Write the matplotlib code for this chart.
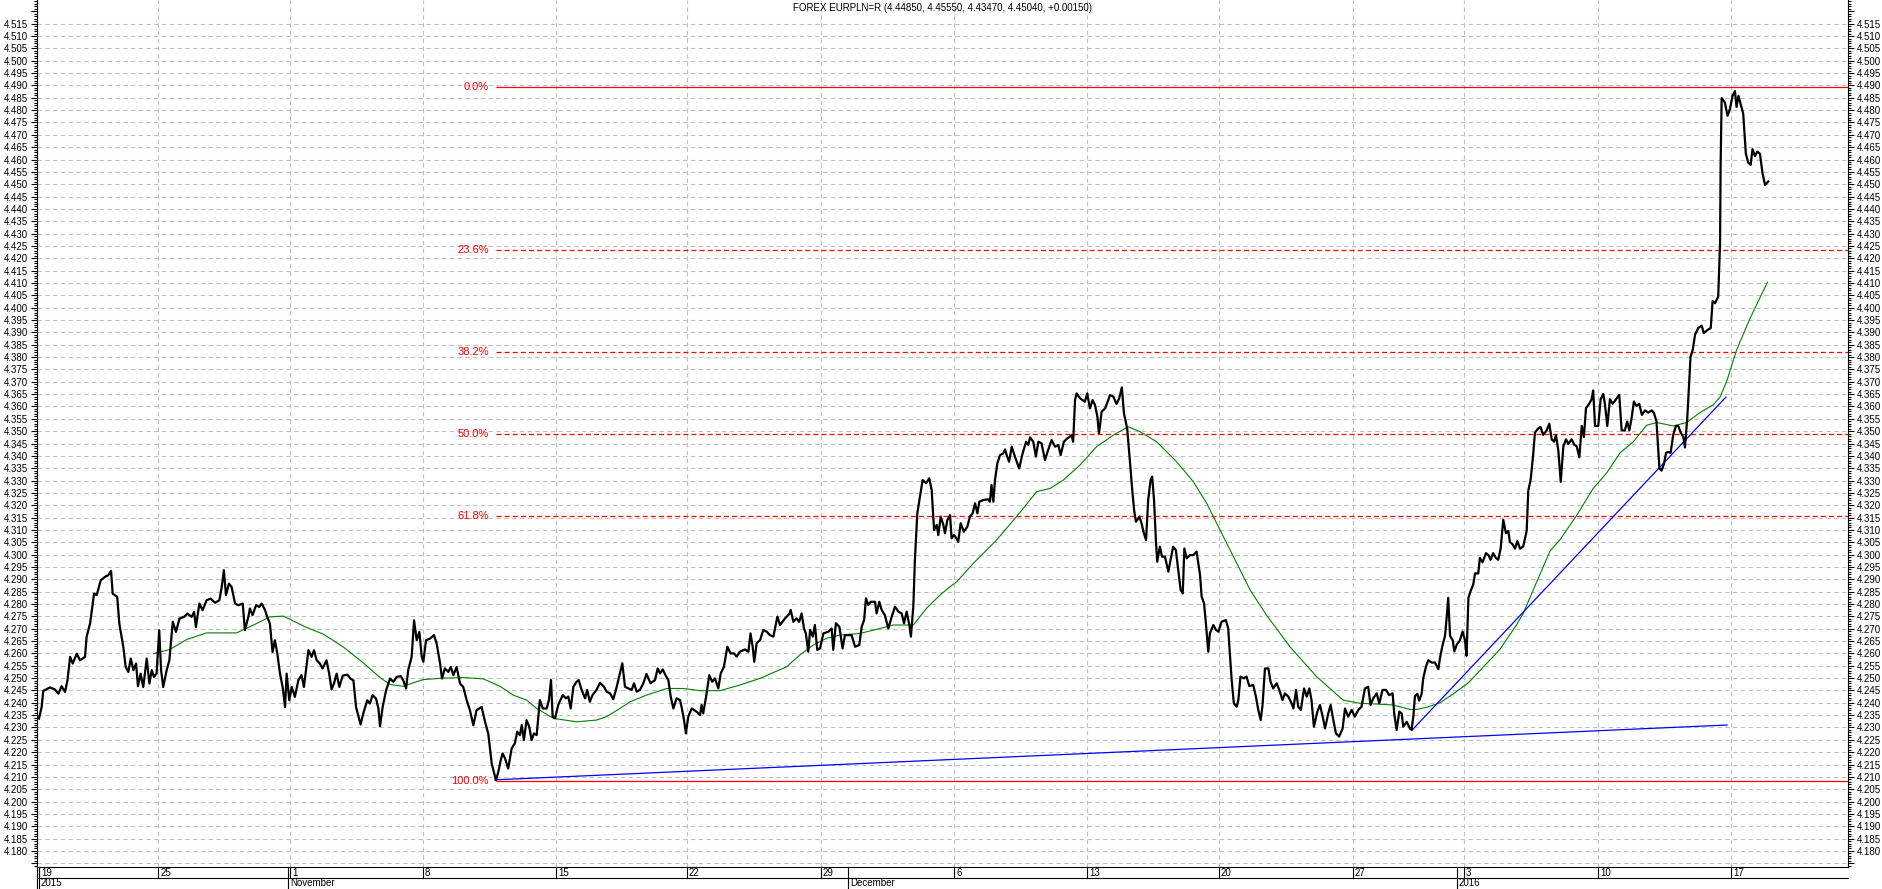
import matplotlib
matplotlib.use('Agg')
import matplotlib.pyplot as plt
from matplotlib.ticker import FixedLocator, FuncFormatter, MultipleLocator
import numpy as np

plt.rcParams['font.family'] = ['Liberation Sans', 'DejaVu Sans']

title = 'FOREX EURPLN=R (4.44850, 4.45550, 4.43470, 4.45040, +0.00150)'

# x axis is in trading days counted from Mon 19 Oct 2015
week_days = [0.0, 4.49, 9.44, 14.44, 19.44, 24.36, 29.40, 34.40, 39.40, 44.36, 49.40, 53.57, 58.61, 63.61]
week_labels = ['19', '25', '1', '8', '15', '22', '29', '6', '13', '20', '27', '3', '10', '17']
month_days = [0.0, 9.36, 30.41, 53.31]
month_labels = ['2015', 'November', 'December', '2016']

# fibonacci retracement
fib_ratios = [0.0, 0.236, 0.382, 0.5, 0.618, 1.0]
fib_high = 4.4895
fib_low = 4.2085
fib_start = 17.18

# trend lines
support_days = [17.14, 63.46]
support_vals = [4.2088, 4.2310]
rally_days = [51.61, 63.42]
rally_vals = [4.2288, 4.3638]

# closing price (day, price)
close_pts = [
    (0.00, 4.2336), (0.10, 4.2383), (0.16, 4.2448), (0.41, 4.2462), (0.60, 4.2454), (0.73, 4.2437),
    (0.85, 4.2467), (0.98, 4.2444), (1.07, 4.2491), (1.17, 4.2586), (1.27, 4.2559), (1.42, 4.2599),
    (1.54, 4.2572), (1.73, 4.2586), (1.79, 4.2667), (1.92, 4.2721), (2.07, 4.2842), (2.17, 4.2836),
    (2.32, 4.2896), (2.48, 4.2910), (2.61, 4.2917), (2.71, 4.2934), (2.77, 4.2842), (2.94, 4.2829),
    (3.02, 4.2721), (3.17, 4.2626), (3.26, 4.2545), (3.36, 4.2525), (3.45, 4.2579), (3.55, 4.2532),
    (3.65, 4.2559), (3.72, 4.2467), (3.82, 4.2518), (3.92, 4.2464), (4.05, 4.2579), (4.15, 4.2478),
    (4.24, 4.2532), (4.32, 4.2505), (4.42, 4.2518), (4.52, 4.2694), (4.59, 4.2532), (4.67, 4.2464),
    (4.80, 4.2532), (4.90, 4.2572), (5.03, 4.2728), (5.15, 4.2687), (5.28, 4.2741), (5.45, 4.2748),
    (5.58, 4.2761), (5.74, 4.2748), (5.83, 4.2768), (5.90, 4.2707), (6.03, 4.2802), (6.15, 4.2775),
    (6.30, 4.2815), (6.45, 4.2822), (6.62, 4.2805), (6.78, 4.2815), (6.87, 4.2869), (6.95, 4.2937),
    (7.03, 4.2836), (7.14, 4.2883), (7.24, 4.2869), (7.37, 4.2802), (7.49, 4.2795), (7.66, 4.2802),
    (7.74, 4.2694), (7.87, 4.2748), (7.93, 4.2782), (8.03, 4.2755), (8.16, 4.2795), (8.28, 4.2788),
    (8.37, 4.2802), (8.50, 4.2775), (8.58, 4.2748), (8.68, 4.2721), (8.78, 4.2606), (8.87, 4.2653),
    (8.96, 4.2599), (9.06, 4.2518), (9.16, 4.2464), (9.25, 4.2383), (9.31, 4.2518), (9.41, 4.2410),
    (9.50, 4.2464), (9.62, 4.2424), (9.75, 4.2491), (9.87, 4.2512), (9.96, 4.2464), (10.13, 4.2613),
    (10.25, 4.2586), (10.34, 4.2613), (10.44, 4.2572), (10.56, 4.2559), (10.66, 4.2539), (10.81, 4.2572),
    (10.91, 4.2518), (11.00, 4.2454), (11.09, 4.2478), (11.19, 4.2518), (11.29, 4.2464), (11.42, 4.2510),
    (11.59, 4.2514), (11.72, 4.2497), (11.82, 4.2491), (11.92, 4.2383), (12.09, 4.2312), (12.19, 4.2356),
    (12.34, 4.2410), (12.44, 4.2397), (12.54, 4.2431), (12.67, 4.2417), (12.76, 4.2377), (12.82, 4.2305),
    (12.92, 4.2383), (13.05, 4.2451), (13.20, 4.2498), (13.32, 4.2485), (13.45, 4.2505), (13.60, 4.2508),
    (13.70, 4.2489), (13.80, 4.2458), (13.88, 4.2532), (14.01, 4.2586), (14.10, 4.2734), (14.20, 4.2653),
    (14.30, 4.2687), (14.39, 4.2586), (14.45, 4.2566), (14.55, 4.2653), (14.70, 4.2660), (14.85, 4.2674),
    (14.95, 4.2640), (15.08, 4.2559), (15.15, 4.2498), (15.26, 4.2539), (15.39, 4.2525), (15.48, 4.2545),
    (15.58, 4.2512), (15.70, 4.2545), (15.83, 4.2478), (15.95, 4.2464), (16.08, 4.2410), (16.20, 4.2370),
    (16.33, 4.2309), (16.45, 4.2370), (16.64, 4.2383), (16.77, 4.2323), (16.89, 4.2275), (17.02, 4.2154),
    (17.18, 4.2086), (17.27, 4.2121), (17.36, 4.2168), (17.43, 4.2195), (17.52, 4.2175), (17.64, 4.2134),
    (17.77, 4.2215), (17.89, 4.2236), (17.98, 4.2283), (18.08, 4.2269), (18.15, 4.2310), (18.23, 4.2249),
    (18.33, 4.2330), (18.43, 4.2303), (18.52, 4.2249), (18.61, 4.2276), (18.71, 4.2269), (18.83, 4.2411),
    (18.94, 4.2377), (19.09, 4.2377), (19.17, 4.2411), (19.25, 4.2492), (19.31, 4.2344), (19.40, 4.2337),
    (19.52, 4.2391), (19.69, 4.2431), (19.81, 4.2418), (19.90, 4.2425), (19.99, 4.2377), (20.09, 4.2465),
    (20.21, 4.2485), (20.29, 4.2492), (20.40, 4.2452), (20.53, 4.2418), (20.61, 4.2452), (20.71, 4.2404),
    (20.81, 4.2431), (20.96, 4.2452), (21.09, 4.2481), (21.24, 4.2465), (21.34, 4.2445), (21.47, 4.2438),
    (21.59, 4.2414), (21.72, 4.2465), (21.84, 4.2519), (21.93, 4.2560), (22.03, 4.2465), (22.16, 4.2458),
    (22.28, 4.2452), (22.37, 4.2479), (22.47, 4.2445), (22.59, 4.2452), (22.72, 4.2479), (22.84, 4.2517),
    (22.99, 4.2479), (23.16, 4.2492), (23.26, 4.2539), (23.35, 4.2519), (23.45, 4.2535), (23.55, 4.2512),
    (23.66, 4.2492), (23.75, 4.2425), (23.85, 4.2377), (23.97, 4.2418), (24.10, 4.2411), (24.17, 4.2377),
    (24.25, 4.2330), (24.32, 4.2276), (24.41, 4.2344), (24.54, 4.2377), (24.72, 4.2364), (24.85, 4.2350),
    (24.91, 4.2391), (24.97, 4.2357), (25.08, 4.2425), (25.20, 4.2512), (25.31, 4.2485), (25.41, 4.2499),
    (25.54, 4.2458), (25.63, 4.2519), (25.75, 4.2546), (25.88, 4.2627), (26.00, 4.2600), (26.13, 4.2600),
    (26.23, 4.2587), (26.35, 4.2607), (26.54, 4.2616), (26.67, 4.2607), (26.75, 4.2681), (26.83, 4.2627),
    (26.89, 4.2566), (26.98, 4.2641), (27.11, 4.2654), (27.23, 4.2695), (27.36, 4.2688), (27.48, 4.2674),
    (27.61, 4.2668), (27.76, 4.2749), (27.86, 4.2715), (28.05, 4.2742), (28.21, 4.2760), (28.26, 4.2776),
    (28.36, 4.2728), (28.48, 4.2742), (28.58, 4.2728), (28.67, 4.2762), (28.76, 4.2701), (28.83, 4.2681),
    (28.92, 4.2607), (28.99, 4.2695), (29.09, 4.2668), (29.17, 4.2715), (29.26, 4.2614), (29.36, 4.2620),
    (29.49, 4.2681), (29.68, 4.2688), (29.80, 4.2701), (29.86, 4.2614), (29.96, 4.2722), (30.09, 4.2708),
    (30.21, 4.2620), (30.30, 4.2674), (30.43, 4.2674), (30.55, 4.2674), (30.68, 4.2627), (30.84, 4.2634),
    (30.93, 4.2708), (31.02, 4.2735), (31.09, 4.2823), (31.18, 4.2796), (31.27, 4.2809), (31.43, 4.2809),
    (31.49, 4.2762), (31.59, 4.2809), (31.68, 4.2776), (31.80, 4.2755), (31.93, 4.2701), (32.06, 4.2749),
    (32.18, 4.2789), (32.31, 4.2769), (32.43, 4.2762), (32.52, 4.2722), (32.62, 4.2769), (32.72, 4.2715),
    (32.78, 4.2668), (32.87, 4.2789), (32.93, 4.2978), (33.02, 4.3167), (33.12, 4.3235), (33.22, 4.3302),
    (33.35, 4.3289), (33.47, 4.3309), (33.56, 4.3262), (33.65, 4.3100), (33.75, 4.3120), (33.81, 4.3079),
    (33.90, 4.3154), (34.00, 4.3120), (34.06, 4.3086), (34.15, 4.3140), (34.25, 4.3160), (34.31, 4.3066),
    (34.40, 4.3079), (34.47, 4.3070), (34.56, 4.3052), (34.65, 4.3127), (34.77, 4.3093), (34.90, 4.3113),
    (35.00, 4.3154), (35.10, 4.3167), (35.19, 4.3208), (35.28, 4.3167), (35.35, 4.3214), (35.50, 4.3221),
    (35.69, 4.3224), (35.75, 4.3214), (35.81, 4.3282), (35.88, 4.3214), (35.94, 4.3302), (36.03, 4.3370),
    (36.13, 4.3403), (36.25, 4.3410), (36.32, 4.3426), (36.38, 4.3403), (36.47, 4.3376), (36.57, 4.3437),
    (36.69, 4.3397), (36.85, 4.3349), (36.98, 4.3410), (37.11, 4.3457), (37.19, 4.3444), (37.26, 4.3475),
    (37.38, 4.3457), (37.48, 4.3397), (37.57, 4.3457), (37.69, 4.3451), (37.82, 4.3383), (37.94, 4.3424),
    (38.07, 4.3464), (38.20, 4.3437), (38.32, 4.3444), (38.41, 4.3403), (38.53, 4.3457), (38.66, 4.3471),
    (38.76, 4.3478), (38.82, 4.3484), (38.88, 4.3457), (38.95, 4.3626), (39.01, 4.3653), (39.14, 4.3633),
    (39.32, 4.3619), (39.41, 4.3653), (39.51, 4.3592), (39.61, 4.3626), (39.70, 4.3606), (39.79, 4.3559),
    (39.85, 4.3491), (39.95, 4.3579), (40.08, 4.3592), (40.20, 4.3626), (40.26, 4.3646), (40.39, 4.3640),
    (40.51, 4.3610), (40.61, 4.3633), (40.71, 4.3677), (40.79, 4.3572), (40.91, 4.3511), (41.01, 4.3383),
    (41.09, 4.3275), (41.17, 4.3181), (41.24, 4.3133), (41.37, 4.3154), (41.45, 4.3127), (41.54, 4.3086),
    (41.62, 4.3059), (41.70, 4.3221), (41.79, 4.3302), (41.85, 4.3316), (41.92, 4.3221), (41.99, 4.3059),
    (42.04, 4.2971), (42.14, 4.3032), (42.22, 4.2992), (42.33, 4.2992), (42.46, 4.2931), (42.54, 4.2978),
    (42.64, 4.3032), (42.74, 4.3019), (42.83, 4.2938), (42.92, 4.2857), (43.00, 4.2843), (43.06, 4.3025),
    (43.15, 4.2985), (43.27, 4.2998), (43.40, 4.2998), (43.52, 4.3012), (43.65, 4.2917), (43.71, 4.2830),
    (43.80, 4.2803), (43.87, 4.2722), (43.96, 4.2607), (44.02, 4.2681), (44.15, 4.2715), (44.25, 4.2695),
    (44.34, 4.2688), (44.46, 4.2728), (44.62, 4.2735), (44.71, 4.2701), (44.77, 4.2600), (44.84, 4.2492),
    (44.92, 4.2398), (45.03, 4.2384), (45.09, 4.2411), (45.17, 4.2506), (45.30, 4.2499), (45.40, 4.2506),
    (45.50, 4.2468), (45.65, 4.2472), (45.75, 4.2425), (45.84, 4.2371), (45.93, 4.2330), (46.00, 4.2391),
    (46.09, 4.2539), (46.22, 4.2539), (46.30, 4.2485), (46.40, 4.2458), (46.53, 4.2479), (46.63, 4.2452),
    (46.75, 4.2411), (46.84, 4.2438), (46.97, 4.2425), (47.09, 4.2398), (47.16, 4.2377), (47.26, 4.2452),
    (47.34, 4.2384), (47.44, 4.2371), (47.56, 4.2458), (47.66, 4.2425), (47.76, 4.2458), (47.84, 4.2411),
    (47.93, 4.2303), (48.06, 4.2364), (48.16, 4.2391), (48.26, 4.2344), (48.35, 4.2296), (48.47, 4.2357),
    (48.56, 4.2391), (48.66, 4.2330), (48.76, 4.2276), (48.88, 4.2263), (49.01, 4.2296), (49.10, 4.2377),
    (49.22, 4.2344), (49.35, 4.2371), (49.47, 4.2344), (49.60, 4.2371), (49.72, 4.2384), (49.85, 4.2458),
    (49.97, 4.2465), (50.06, 4.2391), (50.16, 4.2418), (50.29, 4.2438), (50.39, 4.2398), (50.51, 4.2452),
    (50.64, 4.2452), (50.76, 4.2431), (50.89, 4.2438), (50.95, 4.2357), (51.04, 4.2290), (51.14, 4.2364),
    (51.23, 4.2357), (51.29, 4.2303), (51.42, 4.2323), (51.54, 4.2296), (51.60, 4.2291), (51.67, 4.2346),
    (51.73, 4.2427), (51.82, 4.2436), (51.89, 4.2409), (51.98, 4.2436), (52.04, 4.2499), (52.14, 4.2545),
    (52.23, 4.2572), (52.36, 4.2563), (52.48, 4.2563), (52.61, 4.2536), (52.67, 4.2581), (52.77, 4.2635),
    (52.86, 4.2671), (52.92, 4.2743), (52.98, 4.2825), (53.05, 4.2671), (53.15, 4.2653), (53.21, 4.2608),
    (53.30, 4.2635), (53.42, 4.2653), (53.52, 4.2689), (53.61, 4.2653), (53.67, 4.2590), (53.74, 4.2825),
    (53.82, 4.2852), (53.92, 4.2879), (53.99, 4.2924), (54.11, 4.2924), (54.17, 4.2987), (54.27, 4.2969),
    (54.40, 4.3006), (54.50, 4.2997), (54.57, 4.2979), (54.67, 4.3006), (54.77, 4.2987), (54.86, 4.2979),
    (54.95, 4.3024), (55.05, 4.3141), (55.15, 4.3087), (55.24, 4.3096), (55.30, 4.3051), (55.40, 4.3042),
    (55.49, 4.3024), (55.58, 4.3055), (55.68, 4.3024), (55.80, 4.3033), (55.93, 4.3096), (55.99, 4.3259),
    (56.08, 4.3304), (56.18, 4.3412), (56.24, 4.3494), (56.37, 4.3512), (56.45, 4.3517), (56.55, 4.3485),
    (56.68, 4.3503), (56.78, 4.3530), (56.87, 4.3467), (56.96, 4.3457), (57.03, 4.3485), (57.12, 4.3421),
    (57.21, 4.3295), (57.31, 4.3439), (57.41, 4.3467), (57.49, 4.3448), (57.62, 4.3467), (57.72, 4.3445),
    (57.81, 4.3439), (57.91, 4.3394), (58.00, 4.3521), (58.08, 4.3476), (58.16, 4.3593), (58.28, 4.3611),
    (58.37, 4.3629), (58.43, 4.3665), (58.50, 4.3521), (58.62, 4.3521), (58.71, 4.3629), (58.81, 4.3651),
    (58.87, 4.3611), (58.96, 4.3521), (59.06, 4.3629), (59.16, 4.3611), (59.29, 4.3629), (59.41, 4.3647),
    (59.50, 4.3503), (59.62, 4.3503), (59.71, 4.3539), (59.79, 4.3503), (59.88, 4.3557), (59.96, 4.3620),
    (60.06, 4.3602), (60.16, 4.3611), (60.26, 4.3566), (60.38, 4.3584), (60.50, 4.3575), (60.63, 4.3584),
    (60.71, 4.3575), (60.81, 4.3539), (60.92, 4.3349), (61.00, 4.3340), (61.09, 4.3367), (61.17, 4.3412),
    (61.25, 4.3416), (61.34, 4.3412), (61.44, 4.3485), (61.54, 4.3521), (61.63, 4.3521), (61.72, 4.3494),
    (61.82, 4.3476), (61.88, 4.3434), (61.97, 4.3557), (62.04, 4.3702), (62.09, 4.3801), (62.17, 4.3828),
    (62.26, 4.3891), (62.38, 4.3918), (62.51, 4.3927), (62.59, 4.3897), (62.72, 4.3909), (62.85, 4.3918),
    (62.92, 4.4027), (63.01, 4.4018), (63.13, 4.4045), (63.20, 4.4262), (63.22, 4.4569), (63.26, 4.4849),
    (63.38, 4.4831), (63.48, 4.4777), (63.57, 4.4804), (63.67, 4.4858), (63.76, 4.4877), (63.82, 4.4813),
    (63.89, 4.4858), (63.97, 4.4826), (64.07, 4.4786), (64.17, 4.4623), (64.26, 4.4587), (64.35, 4.4578),
    (64.42, 4.4642), (64.51, 4.4614), (64.60, 4.4632), (64.70, 4.4623), (64.80, 4.4542), (64.89, 4.4497),
    (65.01, 4.4511),
]

# moving average (day, price)
ma_pts = [
    (4.30, 4.2599), (4.92, 4.2616), (5.55, 4.2656), (6.30, 4.2683), (7.43, 4.2683), (8.18, 4.2721),
    (8.68, 4.2748), (9.19, 4.2751), (10.06, 4.2705), (10.69, 4.2678), (11.44, 4.2626), (12.19, 4.2562),
    (12.82, 4.2502), (13.20, 4.2474), (13.70, 4.2467), (14.07, 4.2481), (14.45, 4.2494), (15.20, 4.2500),
    (15.95, 4.2502), (16.70, 4.2497), (17.33, 4.2467), (17.83, 4.2431), (18.33, 4.2411), (18.71, 4.2377),
    (19.34, 4.2337), (20.21, 4.2323), (20.96, 4.2330), (21.34, 4.2344), (21.84, 4.2377), (22.22, 4.2404),
    (22.84, 4.2431), (23.60, 4.2458), (24.22, 4.2458), (24.85, 4.2449), (25.60, 4.2449), (26.35, 4.2472),
    (27.11, 4.2499), (28.11, 4.2546), (28.61, 4.2594), (29.11, 4.2634), (29.61, 4.2661), (30.11, 4.2674),
    (30.87, 4.2681), (31.62, 4.2701), (32.12, 4.2715), (32.87, 4.2715), (33.37, 4.2783), (33.87, 4.2836),
    (34.25, 4.2870), (34.50, 4.2890), (35.13, 4.2965), (36.00, 4.3059), (36.75, 4.3154), (37.51, 4.3255),
    (38.01, 4.3268), (38.51, 4.3302), (39.14, 4.3363), (39.76, 4.3437), (40.39, 4.3484), (40.95, 4.3518),
    (41.39, 4.3498), (42.02, 4.3457), (42.77, 4.3376), (43.40, 4.3295), (43.90, 4.3208), (44.40, 4.3100),
    (45.03, 4.2965), (45.53, 4.2857), (46.15, 4.2755), (47.03, 4.2627), (48.03, 4.2506), (49.03, 4.2411),
    (49.66, 4.2398), (50.29, 4.2395), (50.91, 4.2391), (51.54, 4.2373), (51.79, 4.2373), (52.17, 4.2382),
    (52.67, 4.2400), (53.17, 4.2436), (53.74, 4.2481), (54.30, 4.2545), (54.93, 4.2617), (55.55, 4.2716),
    (55.80, 4.2762), (56.30, 4.2888), (56.81, 4.3015), (57.18, 4.3060), (57.81, 4.3159), (58.43, 4.3268),
    (58.94, 4.3331), (59.44, 4.3412), (59.94, 4.3457), (60.44, 4.3524), (60.82, 4.3535), (61.44, 4.3521),
    (61.94, 4.3535), (62.44, 4.3575), (62.95, 4.3607), (63.20, 4.3638), (63.45, 4.3702), (63.82, 4.3828),
    (64.32, 4.3955), (64.98, 4.4103),
]

close_days, close_vals = zip(*close_pts)
ma_days, ma_vals = zip(*ma_pts)

W, H = 1883, 889
fig = plt.figure(figsize=(W / 100, H / 100), dpi=100)
ax = fig.add_axes([37 / W, 22 / H, 1811 / W, 867 / H])
x0, x1 = -0.075, 68.01
ax.set_xlim(x0, x1)
ax.set_ylim(4.1735, 4.5246)

grid_kw = dict(color='#c0c0c0', lw=0.8, ls=(0, (4, 3)), zorder=0)
for v in np.arange(4.175, 4.5151, 0.005):
    ax.axhline(v, **grid_kw)
for d in week_days[1:]:
    ax.axvline(d, **grid_kw)

# fibonacci levels
rng = fib_high - fib_low
for r in fib_ratios:
    lvl = fib_high - r * rng
    ls = '-' if r in (0.0, 1.0) else (0, (4, 2.5))
    ax.hlines(lvl, fib_start, x1, color='#ff0000', lw=0.9, ls=ls, zorder=2)
    ax.annotate('%.1f%%' % (r * 100), (fib_start, lvl), xytext=(-7, 0),
                textcoords='offset pixels', ha='right', va='center',
                color='#ff0000', fontsize=8)

ax.plot(ma_days, ma_vals, color='#008000', lw=0.8, zorder=3)
ax.plot(support_days, support_vals, color='#0000ff', lw=0.9, zorder=4)
ax.plot(rally_days, rally_vals, color='#0000ff', lw=0.9, zorder=4)
ax.plot(close_days, close_vals, color='black', lw=1.6, zorder=5)

# y axis on both sides
yt = np.arange(4.175, 4.5201, 0.005)
ax.yaxis.set_major_locator(FixedLocator(yt))
ax.yaxis.set_major_formatter(FuncFormatter(
    lambda v, p: '%.3f' % v if 4.1799 < v < 4.5151 else ''))
ax.yaxis.set_minor_locator(MultipleLocator(0.001))
ax.tick_params(axis='y', which='both', direction='out', left=True, right=True,
               labelleft=True, labelright=True, labelsize=7, pad=2, width=0.8)
ax.tick_params(axis='y', which='major', length=4.5)
ax.tick_params(axis='y', which='minor', length=2.2)
ax.set_xticks([])
ax.spines['top'].set_visible(False)
for s in ('left', 'right', 'bottom'):
    ax.spines[s].set_linewidth(0.8)

ax.text(0.5, 1 - 8 / 867, title, transform=ax.transAxes, ha='center',
        va='center', fontsize=7)

# date rows under the chart
xt = ax.get_xaxis_transform()
row = 11 / 867
line_kw = dict(transform=xt, clip_on=False, color='black', lw=0.8)
ax.plot([x0, x1], [-row, -row], **line_kw)
ax.plot([x0, x0], [0, -2 * row], **line_kw)
for d, lab in zip(week_days, week_labels):
    ax.plot([d, d], [0, -row], **line_kw)
    ax.annotate(lab, (d, -row / 2), xycoords=xt, xytext=(2, 0),
                textcoords='offset pixels', ha='left', va='center', fontsize=7)
for d, lab in zip(month_days, month_labels):
    ax.plot([d, d], [0, -2 * row], **line_kw)
    ax.annotate(lab, (d, -1.5 * row), xycoords=xt, xytext=(2, 0),
                textcoords='offset pixels', ha='left', va='center', fontsize=7)

fig.savefig('out.png', dpi=100)
